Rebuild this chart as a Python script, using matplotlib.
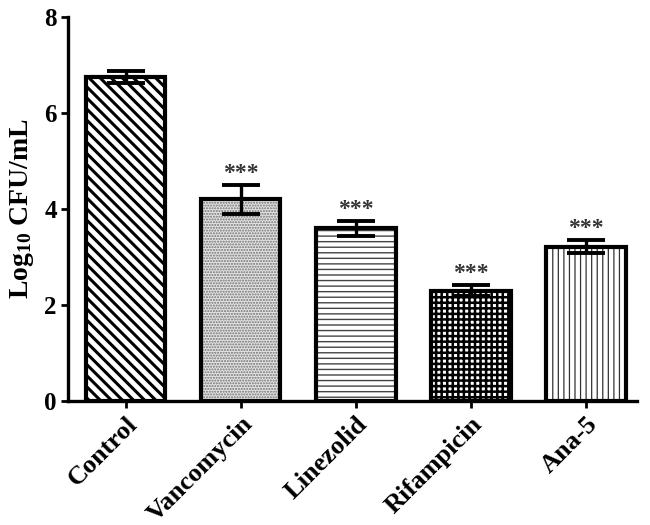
import matplotlib
matplotlib.use("Agg")
import matplotlib.pyplot as plt
import numpy as np

categories = ["Control", "Vancomycin", "Linezolid", "Rifampicin", "Ana-5"]
means = [6.75, 4.2, 3.6, 2.3, 3.22]
errors = [0.12, 0.3, 0.16, 0.12, 0.14]
signif = ["", "***", "***", "***", "***"]
yticks = [0, 2, 4, 6, 8]

hatches = ["\\\\\\", "......", "---", "+++", "|||"]
hatch_colors = ["black", "#707070", "#444444", "black", "#333333"]
face_colors = ["white", "#e4e4e4", "white", "white", "white"]

plt.rcParams["font.family"] = ["Liberation Serif", "DejaVu Serif"]
plt.rcParams["font.weight"] = "bold"
plt.rcParams["mathtext.fontset"] = "custom"
plt.rcParams["mathtext.rm"] = "Liberation Serif:bold"
plt.rcParams["mathtext.it"] = "Liberation Serif:bold"
plt.rcParams["mathtext.bf"] = "Liberation Serif:bold"

fig = plt.figure(figsize=(6.5, 5.25), dpi=100)
ax = fig.add_axes([0.1046, 0.236, 0.875, 0.7316])

x = np.arange(len(categories))
width = 0.69

hatch_lw = [2.2, 1.0, 1.0, 1.8, 0.9]
for i in range(len(categories)):
    plt.rcParams["hatch.linewidth"] = hatch_lw[i]
    ax.bar(x[i], means[i], width, color=face_colors[i], edgecolor=hatch_colors[i],
           hatch=hatches[i], linewidth=0, zorder=2)
ax.bar(x, means, width, fill=False, edgecolor="black", linewidth=3, zorder=3)

ax.errorbar(x, means, yerr=errors, fmt="none", ecolor="black", elinewidth=2.4,
            capsize=13.5, capthick=2.8, zorder=4)

for i in range(len(categories)):
    if signif[i]:
        ax.text(x[i], means[i] + errors[i] + 0.02, signif[i], ha="center", va="bottom",
                fontsize=17, fontweight="bold", color="#333333")

ax.set_xlim(-0.5, 4.44)
ax.set_ylim(0, 8)
ax.set_yticks(yticks)
ax.set_yticklabels([str(v) for v in yticks], fontsize=18, fontweight="bold")
ax.set_xticks(x)
ax.set_xticklabels(categories, rotation=45, ha="right", rotation_mode="anchor",
                   fontsize=19, fontweight="bold")
ax.set_ylabel("Log$_{10}$ CFU/mL", fontsize=20, fontweight="bold", labelpad=6)

for s in ["top", "right"]:
    ax.spines[s].set_visible(False)
for s in ["left", "bottom"]:
    ax.spines[s].set_linewidth(2.4)
ax.tick_params(axis="both", width=2, length=5, direction="out", pad=3)

fig.savefig("out.png", dpi=100)
